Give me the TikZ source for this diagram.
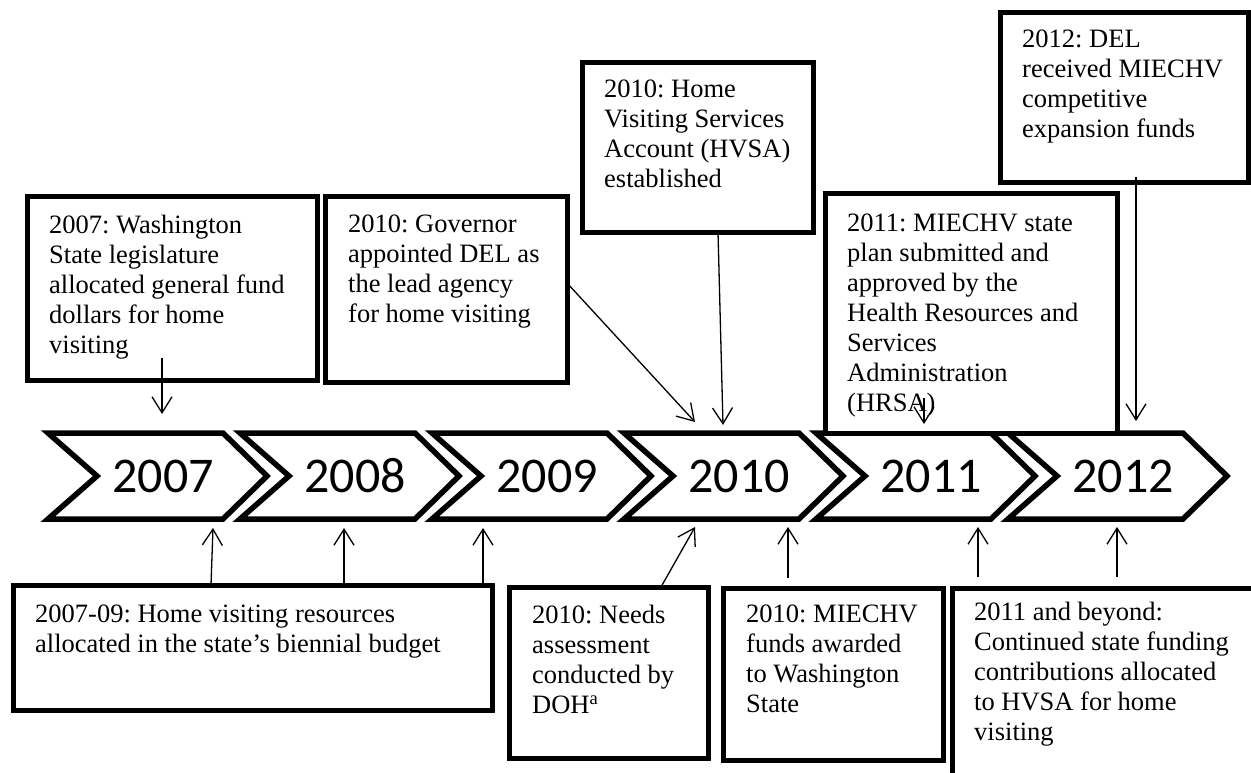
\documentclass[tikz,border=0pt]{standalone}
\usepackage{fontspec}
\setmainfont{Liberation Serif}
\newfontfamily\yearfont{Carlito}
\usetikzlibrary{arrows.meta}
\frenchspacing
\begin{document}
\begin{tikzpicture}[x=1pt,y=-1pt,
  box/.style={draw=black, line width=5pt, anchor=north west, inner sep=0pt, outer sep=0pt, fill=white},
  txt/.style={anchor=north west, inner sep=0pt, align=left, font=\fontsize{26.5}{30}\selectfont, execute at begin node=\strut},
  chev/.style={draw=black, line width=5.5pt, fill=white, line join=miter},
  yr/.style={font=\yearfont\fontsize{50}{60}\selectfont, inner sep=0pt},
  arr/.style={line width=1.3pt, -{Straight Barb[length=16pt,width=20pt,line width=1.3pt]}}
]
\useasboundingbox (0,0) rectangle (1251,773);
\fill[white] (0,0) rectangle (1251,773);
\begin{scope}
\clip (0,0) rectangle (1251,773);

% chevrons
\foreach \L/\yy in {48/2007, 240/2008, 432/2009, 624/2010, 816/2011, 1008/2012}{
  \draw[chev] (\L,433) -- (\L+175,433) -- (\L+219,476) -- (\L+175,519) -- (\L,519) -- (\L+49,476) -- cycle;
  \node[yr] (y\yy) at (\L+115,476) {\yy};
}

% top boxes
\node[box, minimum width=290pt, minimum height=183pt] (A) at (27,197) {};
\node[box, minimum width=242pt, minimum height=185pt] (B) at (325,197) {};
\node[box, minimum width=231pt, minimum height=169pt] (C) at (582,63) {};
\node[box, minimum width=292pt, minimum height=239pt] (D) at (825,194) {};
\node[box, minimum width=248pt, minimum height=170pt] (E) at (1000,13) {};

% bottom boxes
\node[box, minimum width=479pt, minimum height=125pt] (F) at (13,585) {};
\node[box, minimum width=199pt, minimum height=171pt] (G) at (509,587) {};
\node[box, minimum width=220pt, minimum height=172pt] (H) at (723,588) {};
\node[box, minimum width=330pt, minimum height=220pt] (I) at (952,588) {};

% texts
\node[txt] (tA) at (49,214.5) {2007: Washington\\State legislature\\allocated general fund\\dollars for home\\visiting};
\node[txt] (tB) at (348,214.5) {2010: Governor\\appointed DEL as\\the lead agency\\for home visiting};
\node[txt] (tC) at (604,79.5) {2010: Home\\Visiting Services\\Account (HVSA)\\established};
\node[txt] (tD) at (847,213.5) {2011: MIECHV state\\plan submitted and\\approved by the\\Health Resources and\\Services\\Administration\\(HRSA)};
\node[txt] (tE) at (1022,29.5) {2012: DEL\\received MIECHV\\competitive\\expansion funds};
\node[txt] (tF) at (35,604.5) {2007-09: Home visiting resources\\allocated in the state’s biennial budget};
\node[txt] (tG) at (532,604.5) {2010: Needs\\assessment\\conducted by\\DOH\textsuperscript{a}};
\node[txt] (tH) at (746,604.5) {2010: MIECHV\\funds awarded\\to Washington\\State};
\node[txt] (tI) at (974,601.5) {2011 and beyond:\\Continued state funding\\contributions allocated\\to HVSA for home\\visiting};

% arrow end points
\coordinate (a1s) at (162,358); \coordinate (a1e) at (162,414);
\coordinate (a2s) at (567,283); \coordinate (a2e) at (695,422);
\coordinate (a3s) at (718,232); \coordinate (a3e) at (723,425);
\coordinate (a4s) at (924,398); \coordinate (a4e) at (924,424);
\coordinate (a5s) at (1136,177); \coordinate (a5e) at (1136,421);
\coordinate (b1s) at (211,585); \coordinate (b1e) at (213,528);
\coordinate (b2s) at (344,585); \coordinate (b2e) at (344,528);
\coordinate (b3s) at (483,585); \coordinate (b3e) at (483,528);
\coordinate (b4s) at (661,587); \coordinate (b4e) at (695,527);
\coordinate (b5s) at (788,578); \coordinate (b5e) at (788,527);
\coordinate (b6s) at (978,577); \coordinate (b6e) at (978,527);
\coordinate (b7s) at (1117,577); \coordinate (b7e) at (1117,527);

\foreach \p in {a1,a2,a3,a4,a5,b1,b2,b3,b4,b5,b6,b7}{
  \draw[arr] (\p s) -- (\p e);
}
\end{scope}
\end{tikzpicture}
\end{document}
